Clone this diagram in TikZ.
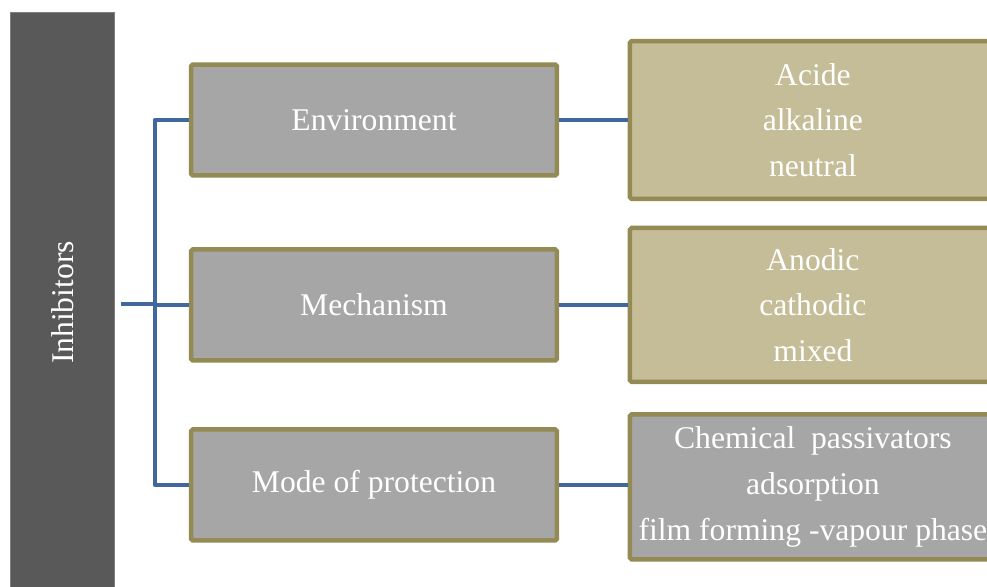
\documentclass[tikz,border=0pt]{standalone}
\usepackage{fontspec}
\setmainfont{Liberation Serif}
\usetikzlibrary{positioning}

\definecolor{linkblue}{RGB}{64,104,158}
\definecolor{olive}{RGB}{148,138,84}
\definecolor{midgrey}{RGB}{166,166,166}
\definecolor{tan}{RGB}{196,189,151}
\definecolor{bardark}{RGB}{89,89,89}
\definecolor{barrim}{RGB}{127,127,127}

\begin{document}
\begin{tikzpicture}[x=0.02cm, y=-0.02cm, on grid,
        every node/.style={text=white, font=\fontsize{18}{26}\selectfont, align=center},
        mid/.style={draw=olive, fill=midgrey, line width=0.09cm, rounded corners=1pt, minimum width=7.32cm, minimum height=2.22cm},
        leaf/.style={draw=olive, fill=tan, line width=0.09cm, rounded corners=1pt, minimum width=7.32cm, minimum height=3.1cm},
        link/.style={draw=linkblue, line width=0.09cm, line join=round}]
        \clip (0,0) rectangle (987,587);
        \fill[white] (0,0) rectangle (987,587);

        \node[draw=barrim, fill=bardark, line width=0.02cm, minimum width=2.08cm, minimum height=11.62cm] (inh) at (62.5,302.5) {\rotatebox{90}{Inhibitors}};

        \node[mid] (env) at (374,120) {Environment};
        \node[mid, below=3.7cm of env] (mech) {Mechanism};
        \node[mid, below=3.6cm of mech] (mode) {Mode of protection};

        \node[leaf, right=8.78cm of env, minimum height=3.16cm] (envt) {Acide\\alkaline\\neutral};
        \node[leaf, right=8.78cm of mech, minimum height=3.08cm] (mecht) {Anodic\\cathodic\\mixed};
        \node[leaf, right=8.78cm of mode, fill=midgrey, minimum height=2.9cm, inner xsep=0.5pt, yshift=-0.04cm] (modet) {Chemical\ \ passivators\\adsorption\\film forming -vapour phase};

        \coordinate (hub) at (155,304);

        \draw[link] ([xshift=0.12cm]inh.east |- hub) -- (hub);
        \draw[link] (env.west) -| (hub) |- (mode.west);
        \draw[link] (mech.west) -- (mech.west -| hub);
        \draw[link] (env.east) -- (envt.west);
        \draw[link] (mech.east) -- (mecht.west);
        \draw[link] (mode.east) -- (mode.east -| modet.west);
    \end{tikzpicture}
\end{document}
